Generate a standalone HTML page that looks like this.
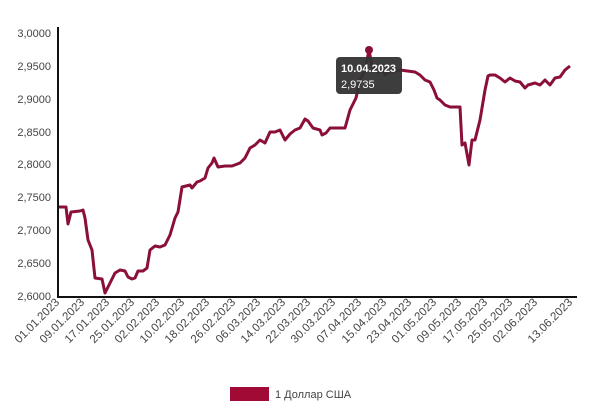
<!DOCTYPE html>
<html><head><meta charset="utf-8"><style>
body{margin:0;background:#fff;width:600px;height:409px;overflow:hidden}
svg text{font-family:"Liberation Sans",sans-serif}
</style></head><body>
<svg width="600" height="409" viewBox="0 0 600 409">
<g font-size="11" fill="#444" text-anchor="end">
<text x="51" y="37">3,0000</text>
<text x="51" y="70">2,9500</text>
<text x="51" y="103">2,9000</text>
<text x="51" y="136">2,8500</text>
<text x="51" y="168">2,8000</text>
<text x="51" y="201">2,7500</text>
<text x="51" y="234">2,7000</text>
<text x="51" y="267">2,6500</text>
<text x="51" y="300">2,6000</text>
</g>
<polyline fill="none" stroke="#8a0f3a" stroke-width="3" stroke-linejoin="round" points="58,207 66,207 68,224 71,212 80,211 83,210 85,218 88,240 92,250 95,278 102,279 105,293 110,283 115,273 120,270 125,271 128,277 132,279 135,278 138,271 143,271 147,268 150,250 155,246 160,247 165,245 170,235 175,218 178,212 182,187 186,186 190,185 192,188 197,182 200,181 205,178 208,168 212,163 214,158 218,167 225,166 232,166 240,163 245,158 250,148 255,145 260,140 265,143 270,132 275,132 280,130 285,140 290,134 295,130 300,128 305,119 308,121 313,128 320,130 322,135 326,133 330,128 336,128 345,128 350,110 356,98 360,80 365,70 369,50 372,66 378,72 383,70 385,75 388,72 400,70 415,72 420,75 425,80 430,82 434,90 437,98 440,100 445,105 450,107 460,107 462,145 465,143 469,165 472,140 475,140 480,120 485,90 488,76 490,75 495,75 500,78 505,82 510,78 515,81 520,82 525,88 528,85 535,83 540,85 545,80 550,85 555,78 560,77 565,70 570,66"/>
<circle cx="369" cy="50" r="4" fill="#8a0f3a"/>
<line x1="58" y1="27" x2="58" y2="297" stroke="#111" stroke-width="2"/>
<line x1="57" y1="297" x2="577" y2="297" stroke="#111" stroke-width="2"/>
<rect x="336" y="57" width="66" height="37" rx="4" fill="#333" opacity="0.95"/>
<text x="341" y="72" font-size="11" font-weight="bold" fill="#fff">10.04.2023</text>
<text x="341" y="88" font-size="11" fill="#fff">2,9735</text>
<g font-size="11.5" fill="#444" text-anchor="end">
<text transform="translate(60,303) rotate(-45)">01.01.2023</text>
<text transform="translate(85,303) rotate(-45)">09.01.2023</text>
<text transform="translate(110,303) rotate(-45)">17.01.2023</text>
<text transform="translate(135,303) rotate(-45)">25.01.2023</text>
<text transform="translate(160,303) rotate(-45)">02.02.2023</text>
<text transform="translate(185,303) rotate(-45)">10.02.2023</text>
<text transform="translate(210,303) rotate(-45)">18.02.2023</text>
<text transform="translate(236,303) rotate(-45)">26.02.2023</text>
<text transform="translate(261,303) rotate(-45)">06.03.2023</text>
<text transform="translate(286,303) rotate(-45)">14.03.2023</text>
<text transform="translate(311,303) rotate(-45)">22.03.2023</text>
<text transform="translate(336,303) rotate(-45)">30.03.2023</text>
<text transform="translate(362,303) rotate(-45)">07.04.2023</text>
<text transform="translate(387,303) rotate(-45)">15.04.2023</text>
<text transform="translate(412,303) rotate(-45)">23.04.2023</text>
<text transform="translate(437,303) rotate(-45)">01.05.2023</text>
<text transform="translate(462,303) rotate(-45)">09.05.2023</text>
<text transform="translate(488,303) rotate(-45)">17.05.2023</text>
<text transform="translate(513,303) rotate(-45)">25.05.2023</text>
<text transform="translate(538,303) rotate(-45)">02.06.2023</text>
<text transform="translate(573,303) rotate(-45)">13.06.2023</text>
</g>
<rect x="230" y="387" width="39" height="14" fill="#a00a35"/>
<text x="275" y="398" font-size="11" fill="#444">1 Доллар США</text>
</svg>
</body></html>
